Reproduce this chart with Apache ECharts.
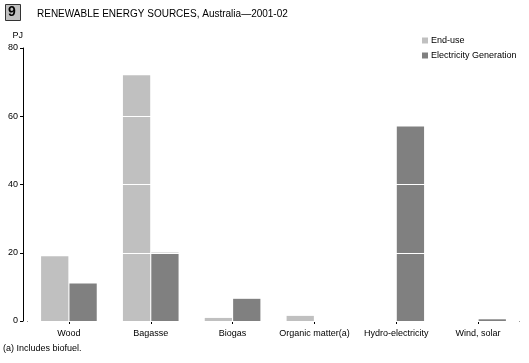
<!DOCTYPE html>
<html><head><meta charset="utf-8">
<script src="https://cdn.jsdelivr.net/npm/echarts@6/dist/echarts.min.js"></script>
<style>html,body{margin:0;padding:0;background:#fff}#c{width:529px;height:363px}</style>
</head><body><div id="c"></div>
<script>
const categories = ['Wood', 'Bagasse', 'Biogas', 'Organic matter(a)', 'Hydro-electricity', 'Wind, solar'];
const endUse = [19, 72, 0.9, 1.5, 0, 0];
const electricity = [11, 20, 6.5, 0, 57, 0.5];
const seriesNames = ['End-use', 'Electricity Generation'];
const yTicks = [0, 20, 40, 60, 80];

const FONT = 'Liberation Sans';
const chart = echarts.init(document.getElementById('c'), null, {renderer: 'canvas'});
chart.setOption({
  animation: false,
  textStyle: {fontFamily: FONT},
  grid: {left: 28, right: 10, top: 48, bottom: 42},
  legend: {
    orient: 'vertical', left: 417, top: 31, itemWidth: 6, itemHeight: 6, itemGap: 6,
    icon: 'rect', textStyle: {fontSize: 9, color: '#000', fontFamily: FONT, padding: [0,0,0,-2]},
    data: seriesNames
  },
  xAxis: {
    type: 'category', data: categories,
    axisLine: {lineStyle: {color: '#000', width: 1}},
    axisTick: {show: true, alignWithLabel: true, length: 3, lineStyle: {color: '#000'}},
    axisLabel: {fontSize: 9, color: '#000', margin: 8, interval: 0}
  },
  yAxis: {
    type: 'value', min: yTicks[0], max: yTicks[yTicks.length - 1], interval: 20,
    offset: 5, z: 5,
    name: 'PJ', nameLocation: 'end', nameGap: 8,
    nameTextStyle: {fontSize: 9, color: '#000', align: 'right', padding: [0, 0, 0, 0]},
    axisLine: {show: true, lineStyle: {color: '#000'}},
    axisTick: {show: true, length: 3, lineStyle: {color: '#000'}},
    axisLabel: {fontSize: 9, color: '#000', margin: 5},
    splitLine: {show: true, lineStyle: {color: '#fff', width: 1}}
  },
  series: [
    {name: seriesNames[0], type: 'bar', data: endUse, itemStyle: {color: '#c0c0c0'}, barGap: '4%', barCategoryGap: '32%'},
    {name: seriesNames[1], type: 'bar', data: electricity, itemStyle: {color: '#808080'}}
  ],
  graphic: [
    {type: 'rect', left: 5, top: 4, shape: {width: 15, height: 16}, style: {fill: '#c0c0c0', stroke: '#333', lineWidth: 1}},
    {type: 'text', left: 8, top: 5, style: {text: '9', font: 'bold 14px ' + FONT, fill: '#000'}},
    {type: 'text', left: 37, top: 9, style: {text: 'RENEWABLE ENERGY SOURCES, Australia\u20142001-02', font: '10px ' + FONT, fill: '#000'}},
    {type: 'text', left: 3, top: 344, style: {text: '(a) Includes biofuel.', font: '9px ' + FONT, fill: '#000'}}
  ]
});
</script></body></html>
